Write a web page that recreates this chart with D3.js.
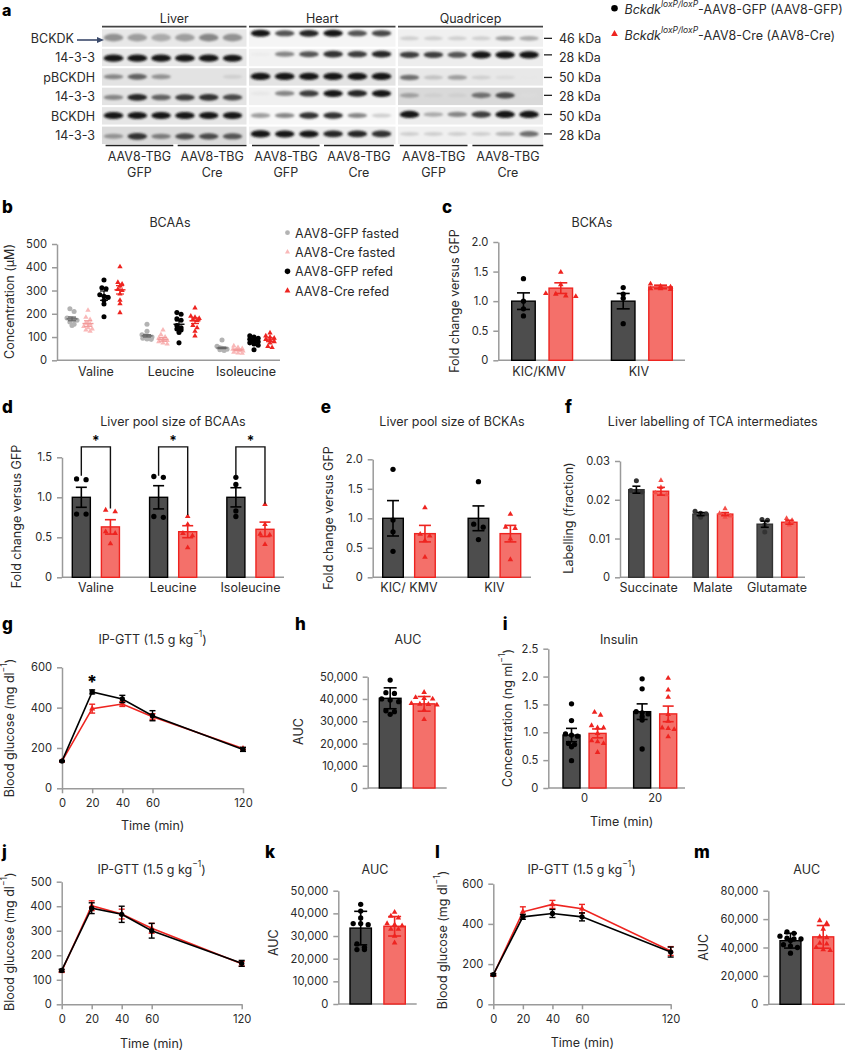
<!DOCTYPE html>
<html><head><meta charset="utf-8">
<style>html,body{margin:0;padding:0;background:#fff}svg{display:block}text{font-family:Inter,"Noto Sans",sans-serif;fill:#2a2a2a}</style>
<script src="https://cdn.jsdelivr.net/npm/d3@7/dist/d3.min.js"></script>
</head><body><svg id="c" width="845" height="1050"></svg>
<script>
// ---------- DATA ----------
const tissues=['Liver','Heart','Quadricep'];
const blotRows=['BCKDK','14-3-3','pBCKDH','14-3-3','BCKDH','14-3-3'];
const blotSizes=['46 kDa','28 kDa','50 kDa','28 kDa','50 kDa','28 kDa'];
const lanes=['G1','G2','G3','C1','C2','C3'];
// optical density per row, tissue, lane
const blotLiver=[[.45,.4,.35,.4,.5,.45],[1,1,1,1,1,.95],[.5,.65,.45,0,0,.2],[.5,.9,.65,.8,.85,.75],[1,1,.95,1,.95,.95],[.45,.85,.55,.75,.75,.7]];
const blotHeart=[[.95,.7,.9,.95,.7,.75],[.08,.5,.7,.85,.8,.9],[1,1,1,1,1,1],[.1,.5,.8,.95,.9,.95],[.4,.5,.85,.85,.5,.2],[1,.95,.95,.9,.9,.85]];
const blotQuad=[[.2,.2,.2,.2,.4,.35],[.8,.8,.7,1,1,1],[.6,.25,.4,.2,.15,.1],[.4,.2,.2,.6,.75,.15],[1,.35,.5,.8,1,1],[.2,.2,.2,.2,.3,.6]];
const blotBackground=[[.09,.04,.06],[.09,.05,.07],[.11,.11,.09],[.11,.06,.15],[.1,.03,.07],[.14,.07,.06]];

const bCategories=['Valine','Leucine','Isoleucine'];
const bSeries=['AAV8-GFP fasted','AAV8-Cre fasted','AAV8-GFP refed','AAV8-Cre refed'];
const bMean=[[178,158,278,303],[105,90,155,170],[53,45,80,88]];
const bErr=[[8,12,20,18],[5,8,15,12],[3,3,6,8]];
const bPoints=[
 [[222,210,182,180,178,175,172,165,155,150],[215,185,175,160,155,145,140,135,130,125],[345,312,308,282,275,270,258,242,187],[402,335,328,320,305,300,285,258,243,205]],
 [[155,125,110,105,105,100,100,95,92,90],[130,110,100,95,90,85,80,75,70],[205,198,178,172,150,140,135,130,120,75],[225,190,185,180,175,170,150,140,125,105]],
 [[87,60,55,53,52,50,50,48,45,42],[62,55,50,48,45,42,40,35,32,30],[105,100,95,90,85,80,75,70,65,45],[118,105,100,95,90,85,80,75,60,55]]];

const cCategories=['KIC/KMV','KIV'];
const cGfpMean=[1,1],cGfpErr=[.14,.13],cCreMean=[1.22,1.24],cCreErr=[.09,.03];
const cGfpPoints=[[1.38,1,.87,.75],[1.23,1.12,1.05,.62]];
const cCrePoints=[[1.49,1.28,1.13,1.12,1.09,1.08],[1.29,1.25,1.24,1.21,1.21,1.2]];

const dCategories=['Valine','Leucine','Isoleucine'];
const dGfpMean=[1,1,1],dGfpErr=[.125,.145,.12],dCreMean=[.63,.57,.6],dCreErr=[.09,.075,.09];
const dGfpPoints=[[1.22,1.23,.79,.79],[1.25,1.26,.75,.76],[1.25,1.16,.83,.76]];
const dCrePoints=[[.84,.82,.57,.55,.42],[.76,.66,.55,.52,.37],[.91,.66,.53,.54,.41]];

const eCategories=['KIC/ KMV','KIV'];
const eGfpMean=[1,1],eGfpErr=[.3,.21],eCreMean=[.74,.74],eCreErr=[.14,.14];
const eGfpPoints=[[1.83,.97,.77,.44],[1.62,.9,.85,.64]];
const eCrePoints=[[1.18,.73,.7,.62,.34],[1.07,.85,.83,.65,.3]];

const fCategories=['Succinate','Malate','Glutamate'];
const fGfpMean=[.0226,.0163,.0137],fGfpErr=[.0009,.0004,.0008],fCreMean=[.0222,.0163,.0142],fCreErr=[.001,.0004,.0005];
const fGfpPoints=[[.0249,.0224,.0222,.022],[.017,.0165,.0164,.0155],[.0149,.0147,.0135,.0117]];
const fCrePoints=[[.025,.0232,.0218,.0215,.0213],[.0177,.0165,.0162,.0158,.0155],[.0152,.0147,.0143,.014,.0135]];

const times=[0,20,40,60,120];
const gGfp=[135,478,443,360,193],gGfpErr=[3,10,18,25,10],gCre=[135,395,418,355,197],gCreErr=[3,22,12,15,5];
const jGfp=[138,392,367,300,167],jGfpErr=[5,22,33,30,12],jCre=[135,402,368,310,165],jCreErr=[5,20,20,20,10];
const lGfp=[148,435,452,435,260],lGfpErr=[5,12,20,20,25],lCre=[145,460,497,475,265],lCreErr=[5,25,20,22,22];

const aucCategory=['AUC'];
const hGfpMean=[40300],hGfpErr=[4700],hCreMean=[37800],hCreErr=[3300];
const hGfpPoints=[[48500,42800,42500,40000,39500,38800,34700,34300,33100]];
const hCrePoints=[[43000,40700,40300,40000,38000,37700,37600,37300,35000,30800]];
const iCategories=['0','20'];
const iGfpMean=[.95,1.37],iGfpErr=[.12,.14],iCreMean=[.98,1.33],iCreErr=[.08,.14];
const iGfpPoints=[[1.51,1.21,.97,.95,.93,.8,.78,.74,.49],[1.96,1.78,1.37,1.35,1.33,1.28,1.22,.7]];
const iCrePoints=[[1.36,1.31,1.12,1.08,1.08,.98,.85,.83,.8,.64],[1.97,1.76,1.63,1.32,1.2,1.08,1.07,1.05,.92]];
const kGfpMean=[33500],kGfpErr=[7400],kCreMean=[34300],kCreErr=[4300];
const kGfpPoints=[[44000,41000,38000,35500,35500,35000,26500,25000,24000,24000]];
const kCrePoints=[[40500,38800,38000,35500,35000,34500,33000,33000,30000,27000]];
const mGfpMean=[44800],mGfpErr=[5200],mCreMean=[47500],mCreErr=[8000];
const mGfpPoints=[[51000,50000,48000,46500,46000,46000,45000,42000,41000,40000,36000]];
const mCrePoints=[[59000,57000,53000,47500,47000,43000,42500,40000,38500,38000]];

// ---------- STYLE / HELPERS ----------
const BLACK='#000',RED='#ee2420',GFP_FILL='#4d4d4d',CRE_FILL='#f4706a',AXIS='#9a9a9a';
const FS=12.5,TICK_FS=11.2;
const svg=d3.select('#c');
const defs=svg.append('defs');
defs.append('filter').attr('id','blur').attr('x','-20%').attr('y','-80%').attr('width','140%').attr('height','260%')
  .append('feGaussianBlur').attr('stdDeviation',1);
defs.append('clipPath').attr('id','page').append('rect').attr('width',845).attr('height',1050);
const circle=s=>d3.symbol(d3.symbolCircle,s)();
const triangle=s=>d3.symbol(d3.symbolTriangle,s*.62)();

function text(x,y,segs,o={}){
  const t=svg.append('text').attr('font-size',o.size||FS).attr('text-anchor',o.anchor||'middle')
    .attr('dominant-baseline',o.baseline||'central');
  if(o.weight)t.attr('font-weight',o.weight);
  if(o.rotate)t.attr('transform',`translate(${x},${y}) rotate(-90)`);else t.attr('x',x).attr('y',y);
  const sz=o.size||FS;let pending=0;
  (Array.isArray(segs)?segs:[segs]).forEach(s=>{
    const isStr=typeof s==='string';
    const sp=t.append('tspan').text(isStr?s:s.t);
    if(!isStr&&s.it)sp.attr('font-style','italic');
    if(!isStr&&s.sup){sp.attr('font-size',sz*.68).attr('dy',-sz*.38);pending=sz*.38;}
    else if(pending){sp.attr('dy',pending);pending=0;}
  });
  return t;
}
function letter(l,x,y,size){text(x,y,l,{size:size||17,weight:800,anchor:'start',baseline:'auto'}).style('fill','#000');}
function styleAxis(g,size){
  g.selectAll('.domain').attr('stroke',AXIS).attr('stroke-width',1.5);
  g.selectAll('.tick line').attr('stroke',AXIS).attr('stroke-width',1.5);
  g.selectAll('.tick text').attr('font-size',size||TICK_FS).attr('font-family','Inter');
  return g;
}
function yAxis(L,y,ticks,fmt){
  styleAxis(svg.append('g').attr('transform',`translate(${L.left},0)`)
   .call(d3.axisLeft(y).tickValues(ticks).tickFormat(fmt).tickSize(5).tickPadding(5).tickSizeOuter(0)));
}
// symmetric Prism-style swarm: values within binPx of each other share a row
function swarm(vals,y,binPx,step,maxW){
  const sorted=[...vals].sort((a,b)=>b-a),rows=[];
  sorted.forEach(v=>{const r=rows[rows.length-1];
    if(r&&y(v)-y(r[0])<binPx)r.push(v);else rows.push([v]);});
  const out=[];
  rows.forEach(r=>{const n=r.length;
    const st=maxW&&n>1?Math.min(step,maxW/(n-1)):step;
    r.forEach((v,i)=>out.push({v,dx:(i-(n-1)/2)*st}));});
  return out;
}
function errBar(g,cx,y,mean,err,cap,color,w){
  const top=y(mean+err),bot=y(mean-err);
  g.append('line').attr('x1',cx).attr('x2',cx).attr('y1',top).attr('y2',bot).attr('stroke',color).attr('stroke-width',w||1.6);
  [top,bot].forEach(p=>g.append('line').attr('x1',cx-cap/2).attr('x2',cx+cap/2).attr('y1',p).attr('y2',p).attr('stroke',color).attr('stroke-width',w||1.6));
}
function barPanel(L,cats,gm,ge,gp,cm,ce,cp){
  const y=d3.scaleLinear().domain([0,L.max]).range([L.bottom,L.top]);
  const x0=d3.scaleBand().domain(cats).range([L.barL,L.barR]).paddingInner(L.groupPad).paddingOuter(0);
  const x1=d3.scaleBand().domain(['GFP','Cre']).range([0,x0.bandwidth()]).paddingInner(L.barPad).paddingOuter(0);
  svg.append('line').attr('x1',L.left).attr('x2',L.right).attr('y1',L.bottom).attr('y2',L.bottom).attr('stroke',AXIS).attr('stroke-width',1.5);
  yAxis(L,y,L.ticks,L.fmt);
  if(L.labels!==false){
    const a=svg.append('g').attr('transform',`translate(${L.labelDx||0},${L.bottom})`).call(d3.axisBottom(x0).tickSize(0).tickPadding(L.labelPad||6));
    a.select('.domain').remove();styleAxis(a,L.labelSize||FS);
  }
  const g=svg.append('g').attr('clip-path','url(#page)');
  cats.forEach((c,i)=>{
    [['GFP',gm,ge,gp,GFP_FILL,L.gfpStroke||BLACK,L.gfpPoint||BLACK,circle],['Cre',cm,ce,cp,CRE_FILL,RED,L.crePoint||RED,triangle]].forEach(([s,m,e,p,fill,stroke,pc,sym])=>{
      const bx=x0(c)+x1(s),bw=x1.bandwidth(),cx=bx+bw/2;
      g.append('rect').attr('x',bx).attr('y',y(m[i])).attr('width',bw).attr('height',L.bottom-y(m[i]))
        .attr('fill',fill).attr('stroke',stroke).attr('stroke-width',1.4);
      swarm(p[i],y,L.bin,L.step).forEach(d=>{
        g.append('path').attr('d',sym(L.sym||22)).attr('fill',pc).attr('transform',`translate(${cx+d.dx},${y(d.v)})`);
      });
      errBar(g,cx,y,m[i],e[i],L.cap,s==='GFP'?BLACK:RED);
    });
  });
  return {x0,x1,y};
}
function linePanel(L,gfp,ge,cre,ce){
  const x=d3.scaleLinear().domain([0,120]).range([L.x0,L.x1]);
  const y=d3.scaleLinear().domain([0,L.max]).range([L.bottom,L.top]);
  yAxis({left:L.x0},y,L.ticks,d3.format('d'));
  const a=svg.append('g').attr('transform',`translate(0,${L.bottom})`)
    .call(d3.axisBottom(x).tickValues(times).tickSize(5).tickPadding(6).tickSizeOuter(0));
  styleAxis(a);
  const line=d3.line().x((d,i)=>x(times[i])).y(d=>y(d));
  [[cre,ce,RED,triangle,26],[gfp,ge,BLACK,circle,22]].forEach(([v,e,col,sym,sz])=>{
    const g=svg.append('g');
    g.append('path').attr('d',line(v)).attr('fill','none').attr('stroke',col).attr('stroke-width',1.6);
    v.forEach((d,i)=>{
      const cx=x(times[i]);
      errBar(g,cx,y,d,e[i],6,col,1.4);
      g.append('path').attr('d',sym(sz)).attr('fill',col).attr('transform',`translate(${cx},${y(d)})`);
    });
  });
  return {x,y};
}
const fold=v=>v===0?'0':d3.format('.1f')(v);
const glucoseLabel=['Blood glucose (mg dl',{t:'\u22121',sup:1},')'];
const gttTitle=['IP-GTT (1.5 g kg',{t:'\u22121',sup:1},')'];

// ---------- PANEL a ----------
letter('a',2,15.5,16);
const blots=[blotLiver,blotHeart,blotQuad];
const blotX=[[102,246.5],[249,395.5],[398,543]];
const bandFrac=[[.48,.23,.52],[.54,.31,.35],[.49,.47,.53],[.56,.33,.44],[.48,.48,.42],[.56,.42,.42]];
const rowY=d3.scaleBand().domain(d3.range(6)).range([29.3,144]).paddingInner(.106).paddingOuter(0);
const od=d3.scaleLinear().domain([0,1]).range(['#ffffff','#000000']);
blots.forEach((b,t)=>{
  const laneX=d3.scalePoint().domain(lanes).range([blotX[t][0]+11.5,blotX[t][1]-14]);
  svg.append('line').attr('x1',blotX[t][0]).attr('x2',blotX[t][1]).attr('y1',26.7).attr('y2',26.7).attr('stroke','#444').attr('stroke-width',1.8);
  text((blotX[t][0]+blotX[t][1])/2,18,tissues[t]);
  b.forEach((row,r)=>{
    svg.append('rect').attr('x',blotX[t][0]).attr('y',rowY(r)).attr('width',blotX[t][1]-blotX[t][0]).attr('height',rowY.bandwidth()).attr('fill',od(blotBackground[r][t]));
    const cy=rowY(r)+bandFrac[r][t]*rowY.bandwidth();
    const smear=r===0&&t===0;
    row.forEach((v,i)=>{
      if(v<=0)return;
      svg.append('ellipse').attr('cx',laneX(lanes[i])).attr('cy',cy)
        .attr('rx',9.8).attr('ry',smear?3.8:1.6+v*2).attr('fill',od(Math.min(.92,v*.95))).attr('filter','url(#blur)');
    });
  });
});
blotRows.forEach((r,i)=>{
  const cy=rowY(i)+rowY.bandwidth()/2;
  text(i===0?74:95,i===0?38:cy,r,{anchor:'end'});
  const tickY=rowY(i)+bandFrac[i][2]*rowY.bandwidth();
  svg.append('line').attr('x1',544).attr('x2',552).attr('y1',tickY).attr('y2',tickY).attr('stroke','#222').attr('stroke-width',1.3);
  text(559,cy,blotSizes[i],{anchor:'start'});
});
svg.append('line').attr('x1',77).attr('x2',100).attr('y1',40).attr('y2',40).attr('stroke','#3b4a6b').attr('stroke-width',1.6);
svg.append('path').attr('d','M104,40L97,37L97,43Z').attr('fill','#3b4a6b');
const groupLabels=['GFP','Cre','GFP','Cre','GFP','Cre'];
const groupX=[[105.6,173.3],[177.7,246.5],[252,319.6],[324,393.8],[399.8,467.5],[472.4,543.3]];
groupX.forEach((g,i)=>{
  svg.append('line').attr('x1',g[0]).attr('x2',g[1]).attr('y1',145.5).attr('y2',145.5).attr('stroke','#222').attr('stroke-width',1.4);
  const c=(g[0]+g[1])/2;
  text(c,156,'AAV8-TBG');text(c,171.5,groupLabels[i]);
});
// top-right legend
svg.append('path').attr('d',circle(34)).attr('fill',BLACK).attr('transform','translate(614.5,8.3)');
svg.append('path').attr('d',triangle(32)).attr('fill',RED).attr('transform','translate(614.5,34)');
text(624.5,9,[{t:'Bckdk',it:1},{t:'loxP/loxP',it:1,sup:1},'-AAV8-GFP (AAV8-GFP)'],{anchor:'start'});
text(624.5,34.5,[{t:'Bckdk',it:1},{t:'loxP/loxP',it:1,sup:1},'-AAV8-Cre (AAV8-Cre)'],{anchor:'start'});

// ---------- PANEL b ----------
letter('b',2,213);
text(170,222,'BCAAs');
text(8.5,301.5,'Concentration (\u00b5M)',{rotate:1});
{
  const L={left:57,right:280,top:244,bottom:360.3};
  const y=d3.scaleLinear().domain([0,500]).range([L.bottom,L.top]);
  const x0=d3.scaleBand().domain(bCategories).range([64,278]).paddingInner(.147).paddingOuter(0);
  const x1=d3.scaleBand().domain(bSeries).range([0,x0.bandwidth()]);
  svg.append('line').attr('x1',L.left).attr('x2',L.right).attr('y1',L.bottom).attr('y2',L.bottom).attr('stroke',AXIS).attr('stroke-width',1.5);
  yAxis(L,y,[0,100,200,300,400,500],d3.format('d'));
  const a=svg.append('g').attr('transform',`translate(0,${L.bottom})`).call(d3.axisBottom(x0).tickSize(0).tickPadding(7));
  a.select('.domain').remove();styleAxis(a,FS);
  const ptCol=['#b3b3b3','#f9b8b8',BLACK,RED],barCol=['#666','#f29a9a',BLACK,RED];
  const syms=[circle,triangle,circle,triangle];
  bCategories.forEach((c,i)=>bSeries.forEach((s,j)=>{
    const cx=x0(c)+x1(s)+x1.bandwidth()/2;
    swarm(bPoints[i][j],y,3,4.2,10).forEach(d=>svg.append('path').attr('d',syms[j](20)).attr('fill',ptCol[j]).attr('transform',`translate(${cx+d.dx},${y(d.v)})`));
    errBar(svg,cx,y,bMean[i][j],bErr[i][j],8,barCol[j],1.2);
    svg.append('line').attr('x1',cx-5.5).attr('x2',cx+5.5).attr('y1',y(bMean[i][j])).attr('y2',y(bMean[i][j])).attr('stroke',barCol[j]).attr('stroke-width',1.4);
  }));
  const legendY=d3.scalePoint().domain(bSeries).range([232.7,290.7]);
  bSeries.forEach((s,j)=>{
    svg.append('path').attr('d',syms[j](j<2?18:24)).attr('fill',ptCol[j]).attr('transform',`translate(287.5,${legendY(s)})`);
    text(295,legendY(s),s,{anchor:'start'});
  });
}

// ---------- PANEL c ----------
letter('c',442,212.5);
text(592,222,'BCKAs');
text(453.5,301,'Fold change versus GFP',{rotate:1});
barPanel({left:498.3,right:685,top:242,bottom:360.3,max:2,ticks:[0,.5,1,1.5,2],fmt:fold,barL:511.7,barR:672.3,groupPad:.39,barPad:.37,bin:4,step:10,cap:13,labelPad:7,labelDx:-3},
  cCategories,cGfpMean,cGfpErr,cGfpPoints,cCreMean,cCreErr,cCrePoints);

// ---------- PANEL d ----------
letter('d',2,412.5);
text(173,421,'Liver pool size of BCAAs');
text(15.7,516.5,'Fold change versus GFP',{rotate:1});
{
  const s=barPanel({left:62,right:284,top:457.3,bottom:577.3,max:1.5,ticks:[0,.5,1,1.5],fmt:fold,barL:72.3,barR:274,groupPad:.39,barPad:.38,bin:4,step:9.5,cap:11,labelPad:6},
    dCategories,dGfpMean,dGfpErr,dGfpPoints,dCreMean,dCreErr,dCrePoints);
  const bracketLow=[1.27,1.27,1.27],bracketHigh=[.86,.78,.92];
  dCategories.forEach((c,i)=>{
    const xa=s.x0(c)+s.x1('GFP')+s.x1.bandwidth()/2,xb=s.x0(c)+s.x1('Cre')+s.x1.bandwidth()/2;
    const top=s.y(1.63);
    svg.append('path').attr('d',`M${xa},${s.y(bracketLow[i])}V${top}H${xb}V${s.y(bracketHigh[i])}`).attr('fill','none').attr('stroke','#111').attr('stroke-width',1.4);
    text((xa+xb)/2,top-7,'*',{size:14,weight:600}).style('fill','#000');
  });
}

// ---------- PANEL e ----------
letter('e',320.7,412.5);
text(452,421,'Liver pool size of BCKAs');
text(327.7,518,'Fold change versus GFP',{rotate:1});
barPanel({left:372.7,right:531,top:459.3,bottom:577.3,max:2,ticks:[0,.5,1,1.5,2],fmt:fold,barL:382.7,barR:520.7,groupPad:.385,barPad:.355,bin:4,step:9.5,cap:12,labelPad:6},
  eCategories,eGfpMean,eGfpErr,eGfpPoints,eCreMean,eCreErr,eCrePoints);

// ---------- PANEL f ----------
letter('f',565,412.5);
text(712.7,421,'Liver labelling of TCA intermediates');
text(568.3,518,'Labelling (fraction)',{rotate:1});
barPanel({left:620,right:805,top:461,bottom:577.3,max:.03,ticks:[0,.01,.02,.03],fmt:v=>v===0?'0':d3.format('.2f')(v),barL:628.7,barR:797,groupPad:.378,barPad:.374,bin:3,step:5.5,cap:8,labelPad:6,sym:20,gfpStroke:'#333',gfpPoint:'#333',crePoint:'#f4504a'},
  fCategories,fGfpMean,fGfpErr,fGfpPoints,fCreMean,fCreErr,fCrePoints);

// ---------- PANEL g ----------
letter('g',2,630);
text(152.7,639,gttTitle);
text(8.5,728,glucoseLabel,{rotate:1});
linePanel({x0:62,x1:243,top:667.3,bottom:788.3,max:600,ticks:[0,200,400,600]},gGfp,gGfpErr,gCre,gCreErr);
text(92,681,'*',{size:18,weight:800}).style('fill','#000');
text(152.7,824.5,'Time (min)');

// ---------- PANEL h ----------
letter('h',295,630);
text(408,639,'AUC');
text(298,731.5,'AUC',{rotate:1});
barPanel({left:367.7,right:446.7,top:676.7,bottom:788,max:50000,ticks:[0,10000,20000,30000,40000,50000],fmt:d3.format(','),barL:379.3,barR:435,groupPad:0,barPad:.36,bin:3.5,step:8.5,cap:13,labels:false},
  aucCategory,hGfpMean,hGfpErr,hGfpPoints,hCreMean,hCreErr,hCrePoints);

// ---------- PANEL i ----------
letter('i',502.7,630);
text(619,639,'Insulin');
text(507,718,['Concentration (ng ml',{t:'\u22121',sup:1},')'],{rotate:1});
barPanel({left:548.3,right:685,top:648.7,bottom:788,max:2.5,ticks:[0,.5,1,1.5,2,2.5],fmt:fold,barL:563,barR:676.7,groupPad:.39,barPad:.346,bin:3.2,step:6,cap:11,labelPad:6,labelSize:TICK_FS},
  iCategories,iGfpMean,iGfpErr,iGfpPoints,iCreMean,iCreErr,iCrePoints);
text(621.7,820.5,'Time (min)');

// ---------- PANEL j ----------
letter('j',2,858);
text(151.7,868.7,gttTitle);
text(8.5,941.7,glucoseLabel,{rotate:1});
linePanel({x0:61.7,x1:241.7,top:881.7,bottom:1004.3,max:500,ticks:[0,100,200,300,400,500]},jGfp,jGfpErr,jCre,jCreErr);
text(151.7,1043,'Time (min)');

// ---------- PANEL k ----------
letter('k',265,858);
text(375,868.7,'AUC');
text(272.7,942.7,'AUC',{rotate:1});
barPanel({left:338.3,right:416.7,top:890.7,bottom:1004,max:50000,ticks:[0,10000,20000,30000,40000,50000],fmt:d3.format(','),barL:350,barR:405.3,groupPad:0,barPad:.37,bin:3.5,step:7.5,cap:13,labels:false},
  aucCategory,kGfpMean,kGfpErr,kGfpPoints,kCreMean,kCreErr,kCrePoints);

// ---------- PANEL l ----------
letter('l',435,858);
text(581.7,868.7,gttTitle);
text(441.7,940,glucoseLabel,{rotate:1});
linePanel({x0:493.3,x1:670.7,top:883.7,bottom:1004.3,max:600,ticks:[0,200,400,600]},lGfp,lGfpErr,lCre,lCreErr);
text(582.3,1042,'Time (min)');

// ---------- PANEL m ----------
letter('m',694,858);
text(806.7,868.7,'AUC');
text(702.7,947.3,'AUC',{rotate:1});
barPanel({left:768.3,right:845,top:890.7,bottom:1004.3,max:80000,ticks:[0,20000,40000,60000,80000],fmt:d3.format(','),barL:780,barR:833.7,groupPad:0,barPad:.36,bin:3.5,step:7,cap:13,labels:false},
  aucCategory,mGfpMean,mGfpErr,mGfpPoints,mCreMean,mCreErr,mCrePoints);
</script></body></html>
